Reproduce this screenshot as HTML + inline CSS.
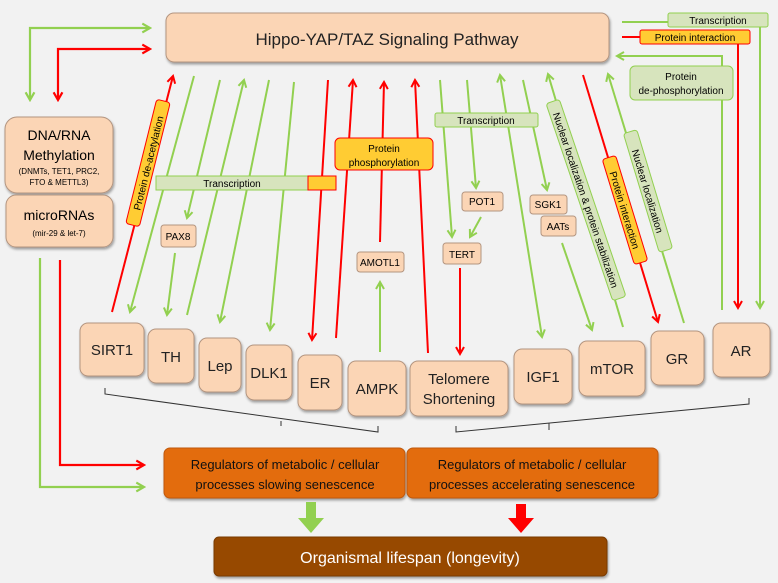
<!DOCTYPE html>
<html><head><meta charset="utf-8"><style>
html,body{margin:0;padding:0;background:#f2f2f2;}
svg{display:block;font-family:"Liberation Sans",sans-serif;}
</style></head><body>
<svg width="778" height="583" viewBox="0 0 778 583" xmlns="http://www.w3.org/2000/svg">
<defs>
<marker id="g" viewBox="0 0 10 10" refX="8" refY="5" markerWidth="5" markerHeight="5" orient="auto-start-reverse"><path d="M1,1 L8,5 L1,9" fill="none" stroke="#92d050" stroke-width="2"/></marker>
<marker id="r" viewBox="0 0 10 10" refX="8" refY="5" markerWidth="5" markerHeight="5" orient="auto-start-reverse"><path d="M1,1 L8,5 L1,9" fill="none" stroke="#ff0000" stroke-width="2"/></marker>
<filter id="sh" x="-10%" y="-10%" width="130%" height="140%"><feDropShadow dx="1" dy="2" stdDeviation="1.2" flood-color="#000" flood-opacity="0.35"/></filter>
</defs>
<rect width="778" height="583" fill="#f2f2f2"/>

<!-- Hippo box -->
<rect x="166" y="13" width="443" height="49" rx="8" fill="#fbd5b5" stroke="#b39580" filter="url(#sh)"/>
<text x="387" y="45" font-size="17" text-anchor="middle" fill="#222">Hippo-YAP/TAZ Signaling Pathway</text>

<!-- top-left loops -->
<g fill="none" stroke-width="2.2">
<polyline points="30,100 30,28 150,28" stroke="#92d050" marker-start="url(#g)" marker-end="url(#g)"/>
<polyline points="58,100 58,49 150,49" stroke="#ff0000" marker-start="url(#r)" marker-end="url(#r)"/>
<polyline points="40,258 40,487 144,487" stroke="#92d050" marker-end="url(#g)"/>
<polyline points="60,260 60,465 144,465" stroke="#ff0000" marker-end="url(#r)"/>
</g>

<!-- DNA/RNA boxes -->
<rect x="5" y="117" width="108" height="76" rx="12" fill="#fbd5b5" stroke="#b39580" filter="url(#sh)"/>
<text x="59" y="140" font-size="14" text-anchor="middle">DNA/RNA</text>
<text x="59" y="160" font-size="14" text-anchor="middle">Methylation</text>
<text x="59" y="174" font-size="8" text-anchor="middle">(DNMTs, TET1, PRC2,</text>
<text x="59" y="185" font-size="8" text-anchor="middle">FTO &amp; METTL3)</text>
<rect x="6" y="195" width="107" height="52" rx="10" fill="#fbd5b5" stroke="#b39580" filter="url(#sh)"/>
<text x="59" y="220" font-size="14" text-anchor="middle">microRNAs</text>
<text x="59" y="236" font-size="8" text-anchor="middle">(mir-29 &amp; let-7)</text>

<!-- connectors -->
<g fill="none" stroke-width="2">
<line x1="112" y1="312" x2="173" y2="76" stroke="#ff0000" marker-end="url(#r)"/>
<line x1="194" y1="76" x2="130" y2="312" stroke="#92d050" marker-end="url(#g)"/>
<line x1="220" y1="80" x2="187" y2="218" stroke="#92d050" marker-end="url(#g)"/>
<line x1="175" y1="253" x2="167" y2="315" stroke="#92d050" marker-end="url(#g)"/>
<line x1="187" y1="315" x2="244" y2="80" stroke="#92d050" marker-end="url(#g)"/>
<line x1="269" y1="80" x2="220" y2="322" stroke="#92d050" marker-end="url(#g)"/>
<line x1="294" y1="82" x2="270" y2="330" stroke="#92d050" marker-end="url(#g)"/>
<line x1="328" y1="80" x2="312" y2="340" stroke="#ff0000" marker-end="url(#r)"/>
<line x1="336" y1="338" x2="353" y2="80" stroke="#ff0000" marker-end="url(#r)"/>
<line x1="380" y1="242" x2="384" y2="82" stroke="#ff0000" marker-end="url(#r)"/>
<line x1="380" y1="352" x2="380" y2="282" stroke="#92d050" marker-end="url(#g)"/>
<line x1="428" y1="353" x2="415" y2="80" stroke="#ff0000" marker-end="url(#r)"/>
<line x1="440" y1="80" x2="452" y2="237" stroke="#92d050" marker-end="url(#g)"/>
<line x1="467" y1="80" x2="476" y2="188" stroke="#92d050" marker-end="url(#g)"/>
<line x1="481" y1="217" x2="470" y2="237" stroke="#92d050" marker-end="url(#g)"/>
<line x1="460" y1="268" x2="460" y2="354" stroke="#ff0000" marker-end="url(#r)"/>
<line x1="500" y1="75" x2="542" y2="337" stroke="#92d050" marker-start="url(#g)" marker-end="url(#g)"/>
<line x1="523" y1="80" x2="547" y2="190" stroke="#92d050" marker-end="url(#g)"/>
<line x1="562" y1="243" x2="592" y2="330" stroke="#92d050" marker-end="url(#g)"/>
<line x1="623" y1="327" x2="548" y2="74" stroke="#92d050" marker-end="url(#g)"/>
<line x1="583" y1="75" x2="658" y2="322" stroke="#ff0000" marker-end="url(#r)"/>
<line x1="684" y1="323" x2="608" y2="74" stroke="#92d050" marker-end="url(#g)"/>
<polyline points="722,310 722,56 617,56" stroke="#92d050" marker-end="url(#g)"/>
<polyline points="622,37 738,37 738,308" stroke="#ff0000" marker-end="url(#r)"/>
<polyline points="622,22 760,22 760,308" stroke="#92d050" marker-end="url(#g)"/>
</g>

<!-- right labels -->
<rect x="668" y="13" width="100" height="14" rx="2" fill="#d7e4bd" stroke="#92d050"/>
<text x="718" y="24" font-size="10" text-anchor="middle">Transcription</text>
<rect x="640" y="30" width="110" height="14" rx="2" fill="#ffcc33" stroke="#ff0000"/>
<text x="695" y="41" font-size="10" text-anchor="middle">Protein interaction</text>
<rect x="630" y="66" width="103" height="34" rx="5" fill="#d7e4bd" stroke="#92d050"/>
<text x="681" y="80" font-size="10" text-anchor="middle">Protein</text>
<text x="681" y="94" font-size="10" text-anchor="middle">de-phosphorylation</text>

<!-- mid labels -->
<rect x="156" y="176" width="180" height="14" fill="#d7e4bd" stroke="#92d050"/>
<rect x="308" y="176" width="28" height="14" fill="#ffcc33" stroke="#ff0000"/>
<text x="232" y="187" font-size="10" text-anchor="middle">Transcription</text>
<rect x="435" y="113" width="103" height="14" rx="2" fill="#d7e4bd" stroke="#92d050"/>
<text x="486" y="124" font-size="10" text-anchor="middle">Transcription</text>
<rect x="335" y="138" width="98" height="32" rx="5" fill="#ffcc33" stroke="#ff0000"/>
<text x="384" y="152" font-size="10" text-anchor="middle">Protein</text>
<text x="384" y="166" font-size="10" text-anchor="middle">phosphorylation</text>

<g transform="translate(148,163) rotate(-76)"><rect x="-64" y="-7" width="128" height="14" rx="3" fill="#ffcc33" stroke="#ff0000"/><text y="4" font-size="10" text-anchor="middle">Protein de-acetylation</text></g>
<g transform="translate(586,200) rotate(71.3)"><rect x="-104" y="-7" width="208" height="14" rx="3" fill="#d7e4bd" stroke="#92d050"/><text y="4" font-size="10" text-anchor="middle">Nuclear localization &amp; protein stabilization</text></g>
<g transform="translate(625,210) rotate(73)"><rect x="-55" y="-7" width="110" height="14" rx="3" fill="#ffcc33" stroke="#ff0000"/><text y="4" font-size="10" text-anchor="middle">Protein interaction</text></g>
<g transform="translate(648,191) rotate(73.2)"><rect x="-62" y="-7" width="124" height="14" rx="3" fill="#d7e4bd" stroke="#92d050"/><text y="4" font-size="10" text-anchor="middle">Nuclear localization</text></g>

<!-- small nodes -->
<g fill="#fbd5b5" stroke="#b39580">
<rect x="161" y="225" width="35" height="22" rx="3"/>
<rect x="357" y="252" width="47" height="20" rx="3"/>
<rect x="462" y="192" width="41" height="19" rx="3"/>
<rect x="443" y="243" width="38" height="21" rx="3"/>
<rect x="530" y="195" width="37" height="19" rx="3"/>
<rect x="541" y="216" width="35" height="20" rx="3"/>
</g>
<g font-size="10" text-anchor="middle">
<text x="178" y="240">PAX8</text>
<text x="380" y="266">AMOTL1</text>
<text x="482" y="205">POT1</text>
<text x="462" y="258">TERT</text>
<text x="548" y="208">SGK1</text>
<text x="558" y="230">AATs</text>
</g>

<!-- main nodes -->
<g fill="#fbd5b5" stroke="#b39580" filter="url(#sh)">
<rect x="80" y="323" width="64" height="53" rx="8"/>
<rect x="148" y="329" width="46" height="54" rx="8"/>
<rect x="199" y="338" width="42" height="54" rx="8"/>
<rect x="246" y="345" width="46" height="55" rx="8"/>
<rect x="298" y="355" width="44" height="55" rx="8"/>
<rect x="348" y="361" width="58" height="55" rx="8"/>
<rect x="410" y="361" width="98" height="55" rx="8"/>
<rect x="514" y="349" width="58" height="55" rx="8"/>
<rect x="579" y="341" width="66" height="55" rx="8"/>
<rect x="651" y="331" width="53" height="54" rx="8"/>
<rect x="713" y="323" width="57" height="54" rx="8"/>
</g>
<g font-size="15" text-anchor="middle" fill="#222">
<text x="112" y="355">SIRT1</text>
<text x="171" y="362">TH</text>
<text x="220" y="371">Lep</text>
<text x="269" y="378">DLK1</text>
<text x="320" y="388">ER</text>
<text x="377" y="394">AMPK</text>
<text x="459" y="384">Telomere</text>
<text x="459" y="404">Shortening</text>
<text x="543" y="382">IGF1</text>
<text x="612" y="374">mTOR</text>
<text x="677" y="364">GR</text>
<text x="741" y="356">AR</text>
</g>

<!-- brackets -->
<g fill="none" stroke="#333" stroke-width="1">
<polyline points="105,388 105,394 378,432 378,426"/>
<line x1="281" y1="421" x2="281" y2="426"/>
<polyline points="456,426 456,432 749,404 749,398"/>
<line x1="549" y1="423" x2="549" y2="430"/>
</g>

<!-- orange boxes -->
<rect x="164" y="448" width="241" height="50" rx="6" fill="#e36c0a" stroke="#c05808" filter="url(#sh)"/>
<rect x="407" y="448" width="251" height="50" rx="6" fill="#e36c0a" stroke="#c05808" filter="url(#sh)"/>
<g font-size="13" text-anchor="middle" fill="#111">
<text x="285" y="469">Regulators of metabolic / cellular</text>
<text x="285" y="489">processes slowing senescence</text>
<text x="532" y="469">Regulators of metabolic / cellular</text>
<text x="532" y="489">processes accelerating senescence</text>
</g>

<!-- big arrows -->
<polygon points="306,502 316,502 316,518 324,518 311,533 298,518 306,518" fill="#92d050"/>
<polygon points="516,504 526,504 526,518 534,518 521,533 508,518 516,518" fill="#ff0000"/>

<rect x="214" y="537" width="393" height="39" rx="5" fill="#974806" stroke="#7a3a05" filter="url(#sh)"/>
<text x="410" y="563" font-size="16" text-anchor="middle" fill="#fff">Organismal lifespan (longevity)</text>
</svg>
</body></html>
